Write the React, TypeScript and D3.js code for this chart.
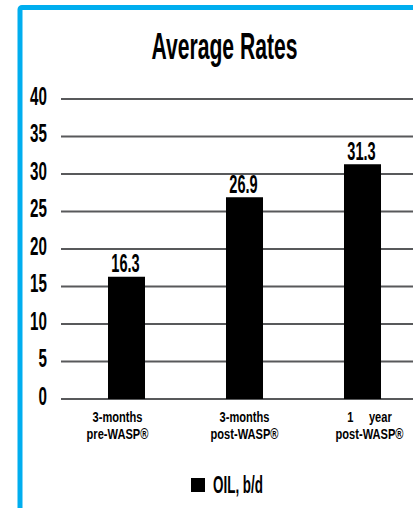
import React from "react";
import * as d3 from "d3";

const categories = ["3-months|pre-WASP®", "3-months|post-WASP®", "1     year|post-WASP®"];
const oilValues = [16.3, 26.9, 31.3];
const yTicks = [0, 5, 10, 15, 20, 25, 30, 35, 40];
const seriesName = "OIL, b/d";
const title = "Average Rates";

const W = 413;
const H = 508;
const FONT = "'Liberation Sans', Arial, sans-serif";
const labelShift = [-9, 0, 7];

export default function App() {
  const x = d3
    .scaleBand<number>()
    .domain(d3.range(categories.length))
    .range([67.5, 421.5])
    .paddingInner(0.6864)
    .paddingOuter(0.3432);
  const y = d3.scaleLinear().domain([0, 40]).range([399, 99]);

  const T = (
    px: number,
    py: number,
    text: string,
    size: number,
    anchor: "start" | "middle" | "end",
    key: string | number,
    sx: number,
    sy: number = 1
  ) => (
    <text
      key={key}
      transform={`translate(${px},${py}) scale(${sx},${sy})`}
      textAnchor={anchor}
      fontFamily={FONT}
      fontWeight="bold"
      fontSize={size}
      fill="#000"
      style={{ whiteSpace: "pre" }}
    >
      {text}
    </text>
  );

  return (
    <svg
      width={W}
      height={H}
      style={{ position: "absolute", left: 0, top: 0, background: "#fff" }}
    >
      <rect x={20} y={7.5} width={600} height={600} rx={2} fill="#fff" stroke="#00AEEF" strokeWidth={5} />
      {T(224.5, 59, title, 33, "middle", "title", 0.64, 1.1)}
      {yTicks.map((t) => (
        <g key={"g" + t}>
          <line x1={61} x2={W} y1={y(t)} y2={y(t)} stroke="#58595B" strokeWidth={2} />
          {T(47, y(t) + 5.5, String(t), 23, "end", "t" + t, 0.66, 1.1)}
        </g>
      ))}
      {oilValues.map((v, i) => (
        <g key={"b" + i}>
          <rect x={x(i)!} y={y(v)} width={x.bandwidth()} height={y(0) - y(v)} fill="#000" />
          {T(x(i)! + x.bandwidth() / 2 - 1, y(v) - 4.5, v.toFixed(1), 23.5, "middle", "v" + i, 0.62, 1.12)}
          {categories[i].split("|").map((line, j) =>
            T(
              x(i)! + x.bandwidth() / 2 + labelShift[i],
              y(0) + 23 + j * 17,
              line,
              15,
              "middle",
              "c" + i + j,
              0.74,
              1
            )
          )}
        </g>
      ))}
      <rect x={191} y={478} width={14} height={14} fill="#000" />
      {T(213, 493, seriesName, 21, "start", "leg", 0.64, 1.12)}
    </svg>
  );
}
